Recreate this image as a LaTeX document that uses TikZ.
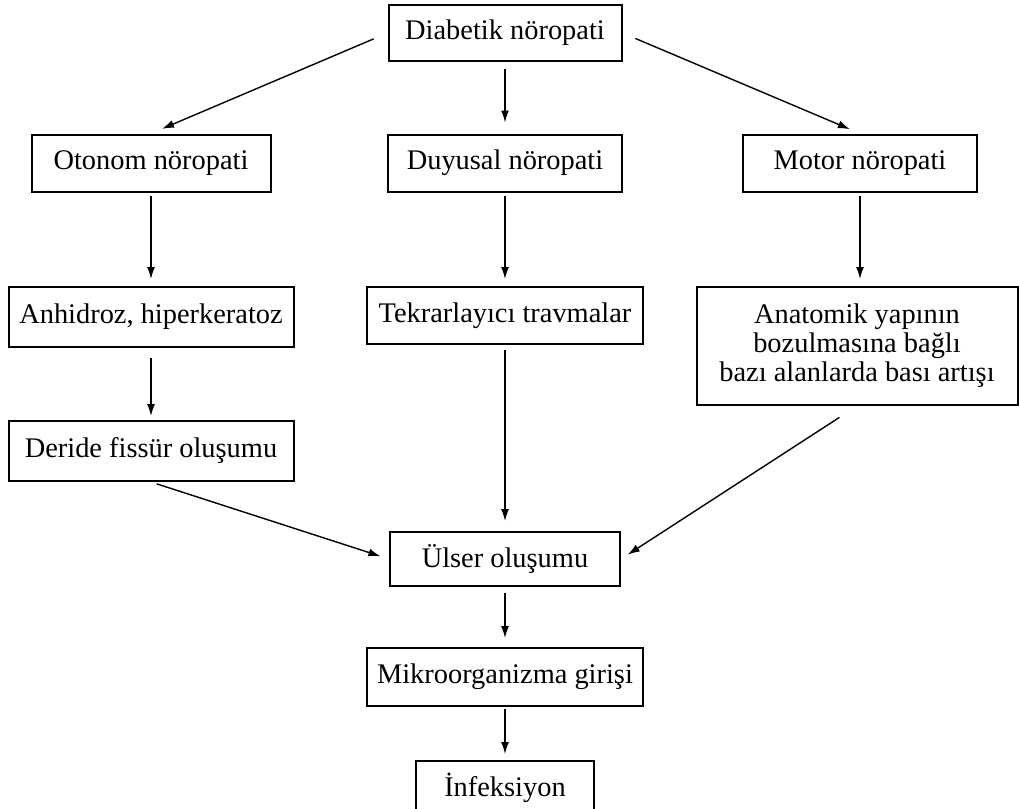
\documentclass[tikz,border=0pt]{standalone}
\usepackage{fontspec}
\setmainfont{Liberation Serif}
\usepackage{tikz}
\usetikzlibrary{arrows.meta}

\tikzset{
  box/.style={draw=black, line width=1pt, inner sep=0pt, align=center,
              font=\fontsize{14.2}{14.5}\selectfont},
  arr/.style={-{Latex[length=6pt,width=4pt]}, line width=0.7pt}
}

\begin{document}
\begin{tikzpicture}[x=0.5pt, y=-0.5pt]
            \useasboundingbox (0,0) rectangle (1019,809);
            % boxes
            \node[box, minimum width=116.5pt, minimum height=28pt]   (diab)  at (505,  33) {Diabetik nöropati};
            \node[box, minimum width=119.5pt, minimum height=28.5pt] (oton)  at (151, 163) {Otonom nöropati};
            \node[box, minimum width=117pt,   minimum height=28.5pt] (duyu)  at (505, 163) {Duyusal nöropati};
            \node[box, minimum width=117pt,   minimum height=28.5pt] (moto)  at (860, 163) {Motor nöropati};
            \node[box, minimum width=142.5pt, minimum height=30pt]   (anhi)  at (151, 317) {Anhidroz, hiperkeratoz};
            \node[box, minimum width=138pt,   minimum height=28.5pt] (tekr)  at (505,315.5) {Tekrarlayıcı travmalar};
            \node[box, minimum width=160.5pt, minimum height=59pt]   (anat)  at (857, 346) {Anatomik yapının\\bozulmasına bağlı\\bazı alanlarda bası artışı};
            \node[box, minimum width=142.5pt, minimum height=30pt]   (deri)  at (151, 451) {Deride fissür oluşumu};
            \node[box, minimum width=115pt,   minimum height=27pt]   (ulse)  at (505, 559) {Ülser oluşumu};
            \node[box, minimum width=138pt,   minimum height=29pt]   (mikr)  at (505, 677) {Mikroorganizma girişi};
            \node[box, minimum width=89pt,    minimum height=27pt]   (infe)  at (505, 788) {İnfeksiyon};
            % arrows
            \draw[arr, shorten <=7.5pt, shorten >=6pt]   (diab.west)  -- (oton.north);
            \draw[arr, shorten <=3.5pt, shorten >=5.5pt] (diab.south) -- (duyu.north);
            \draw[arr, shorten <=7pt,   shorten >=5.5pt] (diab.east)  -- (moto.north);
            \draw[arr, shorten <=1.5pt, shorten >=3.5pt] (oton.south) -- (anhi.north);
            \draw[arr, shorten <=1.5pt, shorten >=3.5pt] (duyu.south) -- (tekr.north);
            \draw[arr, shorten <=1.5pt, shorten >=3.5pt] (moto.south) -- (moto.south |- anat.north);
            \draw[arr, shorten <=5pt,   shorten >=2pt]   (anhi.south) -- (deri.north);
            \draw[arr, shorten <=2.5pt, shorten >=5pt]   (tekr.south) -- (ulse.north);
            \draw[arr, shorten <=3pt,   shorten >=4.5pt] (deri.south) -- (ulse.west);
            \draw[arr, shorten <=10.5pt, shorten >=4pt]  (anat.south) -- (ulse.east);
            \draw[arr, shorten <=3pt,   shorten >=4.5pt] (ulse.south) -- (mikr.north);
            \draw[arr, shorten <=1pt,   shorten >=3pt]   (mikr.south) -- (infe.north);
        \end{tikzpicture}
\end{document}
